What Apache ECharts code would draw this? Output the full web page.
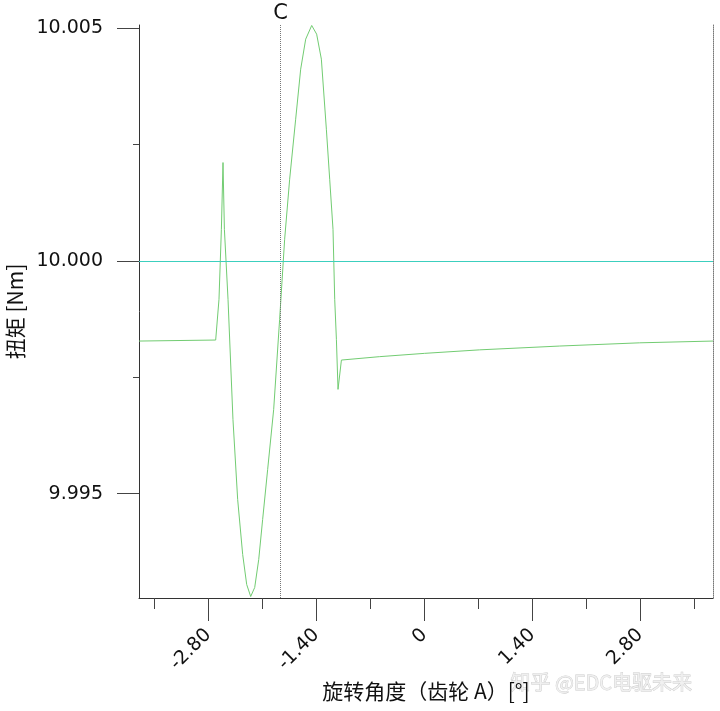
<!DOCTYPE html>
<html><head><meta charset="utf-8">
<script src="https://cdn.jsdelivr.net/npm/echarts@6/dist/echarts.min.js"></script>
<style>html,body{margin:0;padding:0;background:#fff}#c{width:720px;height:711px}</style>
</head><body><div id="c"></div>
<script>
// rotation angle (deg)
const angle = [-3.697,-2.703,-2.660,-2.629,-2.608,-2.590,-2.543,-2.479,-2.418,-2.353,-2.301,-2.249,-2.197,-2.145,-2.094,-2.029,-1.951,-1.874,-1.809,-1.744,-1.666,-1.601,-1.536,-1.458,-1.394,-1.333,-1.268,-1.225,-1.182,-1.160,-1.138,-1.117,-1.073,-0.577,0.006,0.719,1.757,2.794,3.744];
// torque (Nm)
const torque = [9.998280,9.998302,9.999177,10.000681,10.002115,10.000681,9.999177,9.996597,9.994877,9.993695,9.993050,9.992792,9.992986,9.993588,9.994448,9.995523,9.996812,9.998747,10.000466,10.001756,10.003046,10.004121,10.004766,10.005060,10.004873,10.004336,10.002831,10.001756,10.000681,9.999177,9.998317,9.997242,9.997872,9.997945,9.998016,9.998091,9.998173,9.998242,9.998280];
const xMajorTicks = [-2.8,-1.4,0,1.4,2.8];
const xMinorTicks = [-3.5,-2.1,-0.7,0.7,2.1,3.5];
const yMajorTicks = [9.995,10.000,10.005];
const yMinorTicks = [9.9975,10.0025];
const xRange = [-3.697,3.744];
const yRange = [9.99276,10.00507];
const markerC = -1.865;
const markerLabel = 'C';
const refLevel = 10.000;
const xName = '旋转角度（齿轮 A）[°]';
const yName = '扭矩 [Nm]';
const watermark = '知乎 @EDC电驱未来';

const chart = echarts.init(document.getElementById('c'), null, {renderer:'canvas'});
const axisColor = '#333';
const tickFont = {fontFamily:'DejaVu Sans', fontSize:19, color:'#111'};
const xAxisBase = {type:'value', min:xRange[0], max:xRange[1], splitLine:{show:false}, gridIndex:0};
const yAxisBase = {type:'value', min:yRange[0], max:yRange[1], splitLine:{show:false}, gridIndex:0};
chart.setOption({
  animation:false,
  backgroundColor:'#fff',
  grid:{left:139, right:7, top:25, bottom:113, containLabel:false, outerBoundsMode:'none'},
  xAxis:[
    Object.assign({}, xAxisBase, {
      position:'bottom',
      axisLine:{show:true, onZero:false, lineStyle:{color:axisColor, width:1}},
      axisTick:{show:true, length:23, customValues:xMajorTicks, lineStyle:{color:'#444'}},
      axisLabel:Object.assign({show:true, rotate:45, margin:34, customValues:xMajorTicks,
        formatter:v => v === 0 ? '0' : v.toFixed(2)}, tickFont),
      name:xName, nameLocation:'middle', nameGap:83,
      nameTextStyle:{fontFamily:'Noto Sans CJK SC', fontSize:21, color:'#111'}
    }),
    Object.assign({}, xAxisBase, {
      position:'bottom',
      axisLine:{show:false, onZero:false},
      axisTick:{show:true, length:11, customValues:xMinorTicks, lineStyle:{color:'#444'}},
      axisLabel:{show:false}
    })
  ],
  yAxis:[
    Object.assign({}, yAxisBase, {
      position:'left',
      axisLine:{show:true, onZero:false, lineStyle:{color:axisColor, width:1}},
      axisTick:{show:true, length:22, customValues:yMajorTicks, lineStyle:{color:'#444'}},
      axisLabel:Object.assign({show:true, margin:36, customValues:yMajorTicks,
        formatter:v => v.toFixed(3)}, tickFont),
      name:yName, nameLocation:'middle', nameGap:112, nameRotate:90,
      nameTextStyle:{fontFamily:'Noto Sans CJK SC', fontSize:21, color:'#111'}
    }),
    Object.assign({}, yAxisBase, {
      position:'left',
      axisLine:{show:false, onZero:false},
      axisTick:{show:true, length:6, customValues:yMinorTicks, lineStyle:{color:'#444'}},
      axisLabel:{show:false}
    }),
    Object.assign({}, yAxisBase, {
      position:'right',
      axisLine:{show:true, onZero:false, lineStyle:{color:'#777', width:1, type:'dotted'}},
      axisTick:{show:false},
      axisLabel:{show:false}
    })
  ],
  graphic:[{
    type:'text', left:510, top:672, silent:true,
    style:{text:watermark, fontFamily:'Noto Sans CJK SC', fontSize:20, fill:'rgba(240,240,240,0.9)', stroke:'#cccccc', lineWidth:0.8}
  }],
  series:[{
    type:'line', xAxisIndex:0, yAxisIndex:0,
    data:angle.map((a,i)=>[a, torque[i]]),
    showSymbol:false, symbol:'none', smooth:false,
    lineStyle:{color:'#72cc72', width:1},
    clip:false,
    markLine:{
      silent:true, symbol:'none', animation:false,
      data:[
        {xAxis:markerC, lineStyle:{type:'dotted', color:'#777', width:1},
          label:{show:true, position:'end', formatter:markerLabel, distance:1, fontFamily:'DejaVu Sans', fontSize:21, color:'#111'}},
        {yAxis:refLevel, lineStyle:{type:'solid', color:'#3ccfbe', width:1, opacity:1}, label:{show:false}}
      ]
    }
  }]
});
</script>
</body></html>
